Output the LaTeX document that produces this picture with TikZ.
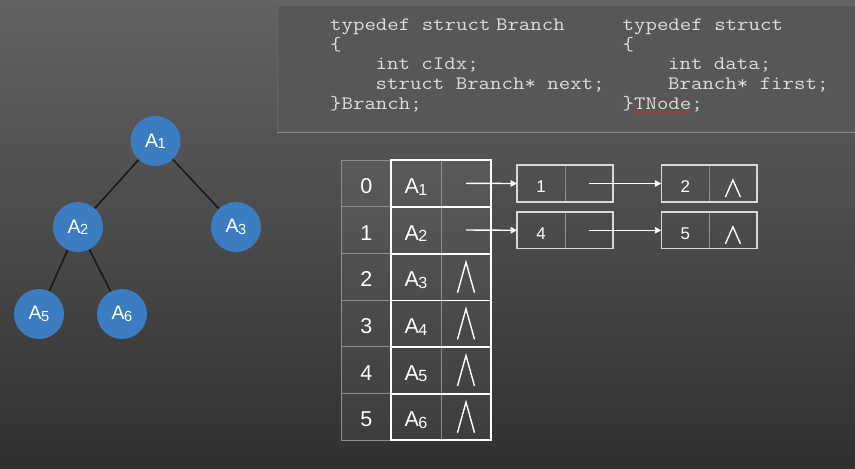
\documentclass[tikz,border=0pt]{standalone}
\usepackage{fontspec}
\setmainfont{Liberation Sans}
\newfontfamily\codefont{Latin Modern Mono}[FakeStretch=1.17]
\usetikzlibrary{arrows.meta,decorations.pathmorphing}

\definecolor{bgtop}{HTML}{626262}
\definecolor{bgmid}{HTML}{4A4A4A}
\definecolor{bgbot}{HTML}{303030}
\definecolor{codebg}{HTML}{575757}
\definecolor{codeedge}{HTML}{666666}
\definecolor{codetext}{HTML}{DDDDDD}
\definecolor{treeblue}{HTML}{3B7DC0}
\definecolor{gridgray}{HTML}{8E8E8E}
\definecolor{boxedge}{HTML}{D8D8D8}
\definecolor{squiggle}{HTML}{C8302C}

\pgfdeclareverticalshading{bgshade}{100bp}{color(0bp)=(bgbot); color(25bp)=(bgbot); color(50bp)=(bgmid); color(75bp)=(bgtop); color(100bp)=(bgtop)}

% letter A with a lowered, smaller index digit
\newcommand{\Aidx}[1]{A\kern-0.02em\raisebox{-0.07em}{\scalebox{0.75}{#1}}}

\begin{document}
\begin{tikzpicture}[x=1pt,y=-1pt,
  treenode/.style={circle, fill=treeblue, minimum size=50pt, inner sep=0pt,
    text=white, font=\fontsize{19.5}{19.5}\selectfont},
  treeedge/.style={line width=1.6pt, draw=black!90},
  codeline/.style={anchor=base west, inner sep=0pt, text=codetext,
    font=\fontsize{19}{20}\codefont},
  cell/.style={draw=gridgray, line width=0.8pt, minimum height=46.67pt,
    inner sep=0pt, fill=white, fill opacity=0.05, text opacity=1, text=white,
    font=\fontsize{21.5}{21.5}\selectfont, text height=20.5pt, text depth=0pt},
  idxcell/.style={cell, minimum width=49.3pt},
  datcell/.style={cell, minimum width=50pt},
  ptrcell/.style={cell, minimum width=50pt},
  smallcell/.style={draw=gridgray, line width=0.8pt, minimum height=36pt,
    minimum width=47.5pt, inner sep=0pt, text=white,
    font=\fontsize{17}{17}\selectfont, text height=18pt, text depth=0pt},
  mainframe/.style={draw=white, line width=2pt},
  rowrule/.style={draw=white, line width=1.8pt},
  boxframe/.style={draw=boxedge, line width=1.5pt},
  nullmark/.style={draw=white, line width=1.4pt, line join=miter},
  pointer/.style={draw=white, line width=1.4pt,
    -{Triangle[length=6.5pt,width=6.5pt]}}
]
\useasboundingbox (0,0) rectangle (855,469);

% background
\shade[shading=bgshade] (0,0) rectangle (855,469);

% code panel
\fill[codebg] (277,5) rectangle (856,132);
\draw[codeedge, line width=0.8pt] (277,132) -- (277,5) -- (856,5);
\draw[codeedge!80!white, line width=0.8pt] (277,132) -- (856,132);

\node[codeline] (c1) at (330,30.5) {typedef struct\kern5.6pt Branch};
\node[codeline] (c2) at (330,50.2) {\{};
\node[codeline] (c3) at (375.5,69.9) {int cIdx;};
\node[codeline] (c4) at (375.5,89.6) {struct Branch* next;};
\node[codeline] (c5) at (330,109.3) {\}Branch;};

\node[codeline] (t1) at (622.5,30.5) {typedef struct};
\node[codeline] (t2) at (622.5,50.2) {\{};
\node[codeline] (t3) at (668,69.9) {int data;};
\node[codeline] (t4) at (668,89.6) {Branch* first;};
\node[codeline] (t5) at (622.5,109.3) {\}TNode;};
\draw[squiggle, line width=0.7pt, decorate,
  decoration={snake, amplitude=0.8pt, segment length=3.2pt}]
  (633.5,112.2) -- (690.5,112.2);

% tree
\node[treenode] (a1) at (155.5,141) {\Aidx{1}};
\node[treenode] (a2) at (78,227) {\Aidx{2}};
\node[treenode] (a3) at (236,227) {\Aidx{3}};
\node[treenode] (a5) at (39,314) {\Aidx{5}};
\node[treenode] (a6) at (122,314) {\Aidx{6}};
\draw[treeedge] (a1) -- (a2);
\draw[treeedge] (a1) -- (a3);
\draw[treeedge] (a2) -- (a5);
\draw[treeedge] (a2) -- (a6);

% head table: index | data | first
\foreach \i/\lab in {0/1,1/2,2/3,3/4,4/5,5/6}{
  \pgfmathsetmacro{\ry}{183.33+46.67*\i}
  \node[idxcell] (i\i) at (366.35,\ry) {\i};
  \node[datcell] (d\i) at (416,\ry) {\Aidx{\lab}};
  \node[ptrcell] (p\i) at (466,\ry) {};
}
\draw[mainframe] (d0.north west) rectangle (p5.south east);
\foreach \i in {0,...,4}{
  \draw[rowrule] (d\i.south west) -- (p\i.south east);
}
\foreach \i in {2,...,5}{
  \draw[nullmark] ([xshift=-8.5pt,yshift=-16pt]p\i.center) -- ++(8.5,-30.5) -- ++(8.5,30.5);
}

% branch lists
\node[smallcell] (v1) at (541.2,183.5) {1};
\node[smallcell] (n1) at (588.7,183.5) {};
\node[smallcell] (v2) at (685.4,183.5) {2};
\node[smallcell] (n2) at (732.9,183.5) {};
\node[smallcell] (v4) at (541.2,230.3) {4};
\node[smallcell] (n4) at (588.7,230.3) {};
\node[smallcell] (v5) at (685.4,230.3) {5};
\node[smallcell] (n5) at (732.9,230.3) {};
\foreach \a/\b in {v1/n1,v2/n2,v4/n4,v5/n5}{
  \draw[boxframe] (\a.north west) rectangle (\b.south east);
}
\foreach \n in {n2,n5}{
  \draw[nullmark] ([xshift=-7.5pt,yshift=-13.5pt]\n.center) -- ++(7.5,-17) -- ++(7.5,17);
}

\draw[pointer] (p0.center) -- (v1.west);
\draw[pointer] (p1.center) -- (v4.west);
\draw[pointer] (n1.center) -- (v2.west);
\draw[pointer] (n4.center) -- (v5.west);
\end{tikzpicture}
\end{document}
